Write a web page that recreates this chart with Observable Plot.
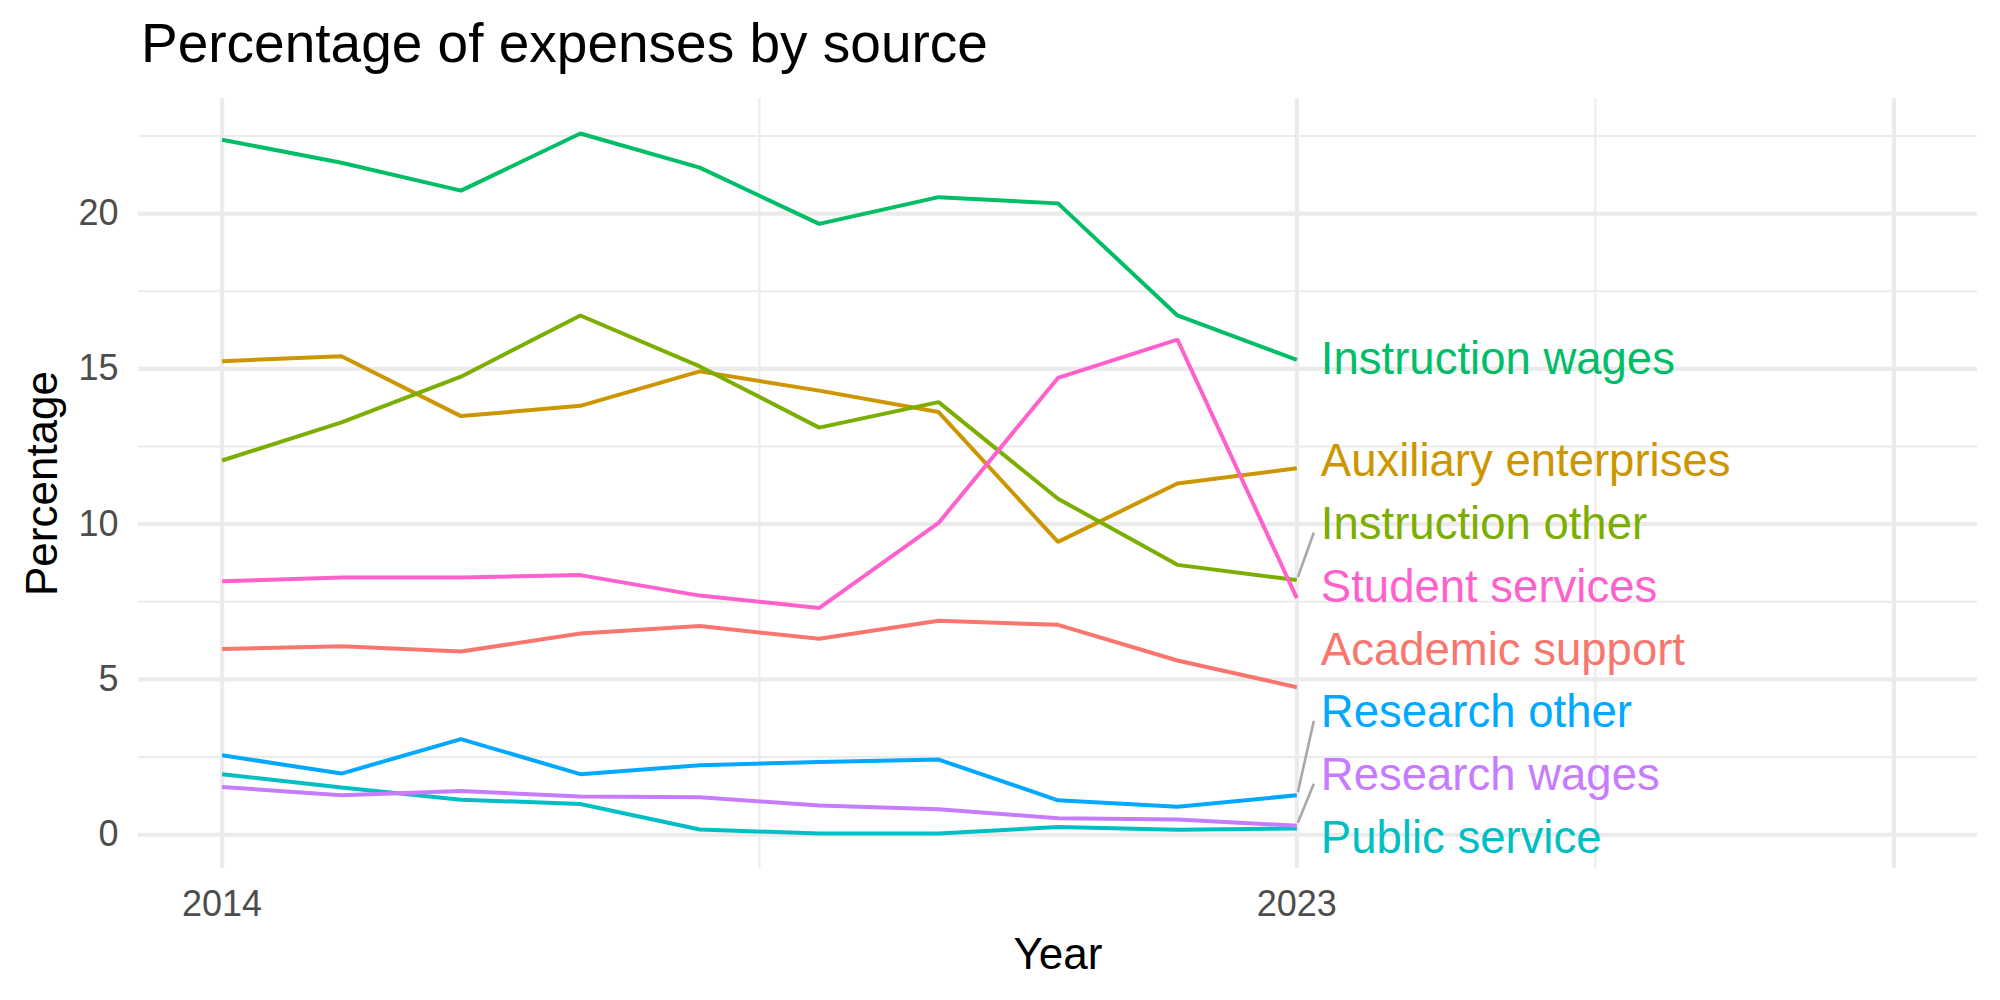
<!DOCTYPE html>
<html>
<head>
<meta charset="utf-8">
<script src="https://cdn.jsdelivr.net/npm/d3@7"></script>
<script src="https://cdn.jsdelivr.net/npm/@observablehq/plot@0.6"></script>
<style>
  html, body { margin: 0; padding: 0; background: #fff; }
  #wrap { width: 2000px; height: 1000px; position: relative; font-family: "Liberation Sans", Arial, Helvetica, sans-serif; }
  #title { position: absolute; left: 141px; top: 16px; font-size: 55px; line-height: 55px; color: #000; white-space: nowrap; }
  #chart { position: absolute; left: 0; top: 80px; }
</style>
</head>
<body>
<div id="wrap">
  <div id="title">Percentage of expenses by source</div>
  <div id="chart"></div>
</div>
<script>
// Share of expenses (%) by source, 2014–2023
const years = [2014, 2015, 2016, 2017, 2018, 2019, 2020, 2021, 2022, 2023];

const academicSupport      = [5.98, 6.07, 5.90, 6.48, 6.72, 6.31, 6.89, 6.76, 5.61, 4.75];
const auxiliaryEnterprises = [15.25, 15.41, 13.48, 13.81, 14.92, 14.30, 13.61, 9.43, 11.31, 11.80];
const instructionOther     = [12.05, 13.28, 14.75, 16.72, 15.08, 13.11, 13.93, 10.82, 8.69, 8.20];
const instructionWages     = [22.38, 21.64, 20.74, 22.58, 21.48, 19.67, 20.53, 20.33, 16.72, 15.29];
const publicService        = [1.95, 1.52, 1.13, 0.99, 0.17, 0.04, 0.04, 0.25, 0.16, 0.20];
const researchOther        = [2.56, 1.97, 3.08, 1.95, 2.24, 2.34, 2.42, 1.11, 0.90, 1.27];
const researchWages        = [1.54, 1.27, 1.41, 1.23, 1.21, 0.94, 0.82, 0.53, 0.49, 0.29];
const studentServices      = [8.16, 8.28, 8.28, 8.36, 7.70, 7.30, 10.04, 14.71, 15.94, 7.62];

const sourceNames = ["Academic support", "Auxiliary enterprises", "Instruction other", "Instruction wages",
                     "Public service", "Research other", "Research wages", "Student services"];
const sourceValues = [academicSupport, auxiliaryEnterprises, instructionOther, instructionWages,
                      publicService, researchOther, researchWages, studentServices];
const sourceColors = ["#F8766D", "#CD9600", "#7CAE00", "#00BE67", "#00BFC4", "#00A9FF", "#C77CFF", "#FF61CC"];

const xLimits = [2014, 2028];
const xTickValues = [2014, 2023];
const xGridMajor = [2014, 2023, 2028];
const xGridMinor = [2018.5, 2025.5];
const yTickValues = [0, 5, 10, 15, 20];
const yGridMinor = [2.5, 7.5, 12.5, 17.5, 22.5];

// long table
const rows = [];
sourceNames.forEach((name, i) => {
  years.forEach((year, j) => rows.push({name, year, value: sourceValues[i][j]}));
});

// geometry
const W = 2000, H = 920;
const margin = {top: 18, right: 23, bottom: 132, left: 138};
const xPad = 0.05 * (xLimits[1] - xLimits[0]);
const xDomain = [xLimits[0] - xPad, xLimits[1] + xPad];
const [vMin, vMax] = d3.extent(rows, d => d.value);
const yPad = 0.05 * (vMax - vMin);
const yDomain = [vMin - yPad, vMax + yPad];
const xs = d3.scaleLinear(xDomain, [margin.left, W - margin.right]);
const ys = d3.scaleLinear(yDomain, [H - margin.bottom, margin.top]);

// end labels, pushed apart vertically so they do not overlap
const lastYear = years[years.length - 1];
const ends = sourceNames.map((name, i) => {
  const v = sourceValues[i][sourceValues[i].length - 1];
  return {name, value: v, py: ys(v)};
});
const gap = 62.8, edge = 30;
const lo = H - margin.bottom - edge, hi = margin.top + edge;
function layoutCluster(c) {
  const n = c.items.length;
  const m = d3.mean(c.items, d => d.py);
  let bottom = m + (n - 1) / 2 * gap;
  if (bottom > lo) bottom = lo;
  let top = bottom - (n - 1) * gap;
  if (top < hi) bottom += hi - top;
  c.bottom = bottom;
  c.top = bottom - (n - 1) * gap;
}
const order = ends.slice().sort((a, b) => b.py - a.py);
const clusters = [];
for (const e of order) {
  const c = {items: [e]};
  layoutCluster(c);
  clusters.push(c);
  while (clusters.length > 1) {
    const a = clusters[clusters.length - 2], b = clusters[clusters.length - 1];
    if (a.top - b.bottom < gap) {
      const merged = {items: a.items.concat(b.items)};
      layoutCluster(merged);
      clusters.splice(-2, 2, merged);
    } else break;
  }
}
clusters.forEach(c => c.items.forEach((e, i) => { e.ly = c.bottom - i * gap; }));
ends.forEach(e => { e.labelValue = ys.invert(e.ly); });

// leader segments for labels that moved far from their line end
const xEnd = xs(lastYear);
const segments = ends.filter(e => Math.abs(e.ly - e.py) > 45).map(e => {
  const s = Math.sign(e.ly - e.py);
  return {
    x1: xs.invert(xEnd + 1), y1: ys.invert(e.py + 3 * s),
    x2: xs.invert(xEnd + 17), y2: ys.invert(e.ly - 8 * s)
  };
});

const gridColor = "#EBEBEB";
const tickColor = "#4D4D4D";
const chart = Plot.plot({
  width: W,
  height: H,
  marginTop: margin.top,
  marginRight: margin.right,
  marginBottom: margin.bottom,
  marginLeft: margin.left,
  x: {type: "linear", domain: xDomain, axis: null},
  y: {type: "linear", domain: yDomain, axis: null},
  color: {domain: sourceNames, range: sourceColors},
  style: {
    fontFamily: '"Liberation Sans", Arial, Helvetica, sans-serif',
    fontSize: "36px",
    background: "white",
    color: tickColor,
    overflow: "visible"
  },
  marks: [
    Plot.gridY(yGridMinor, {stroke: gridColor, strokeOpacity: 1, strokeWidth: 2.1}),
    Plot.gridX(xGridMinor, {stroke: gridColor, strokeOpacity: 1, strokeWidth: 2.1}),
    Plot.gridY(yTickValues, {stroke: gridColor, strokeOpacity: 1, strokeWidth: 4.2}),
    Plot.gridX(xGridMajor, {stroke: gridColor, strokeOpacity: 1, strokeWidth: 4.2}),
    // tick labels
    Plot.text(yTickValues, {frameAnchor: "left", y: d => d, text: d => String(d), textAnchor: "end", lineAnchor: "middle", dx: -20, fontSize: 36, fill: tickColor}),
    Plot.text(xTickValues, {frameAnchor: "bottom", x: d => d, text: d => String(d), textAnchor: "middle", lineAnchor: "top", dy: 22, fontSize: 36, fill: tickColor}),
    Plot.line(rows, {x: "year", y: "value", z: "name", stroke: "name", strokeWidth: 4, strokeLinejoin: "miter", strokeLinecap: "butt"}),
    Plot.link(segments, {x1: "x1", y1: "y1", x2: "x2", y2: "y2", stroke: "#A8A8A8", strokeWidth: 2.6}),
    Plot.text(ends, {x: () => lastYear, y: "labelValue", text: "name", fill: "name", textAnchor: "start", lineAnchor: "middle", dx: 24, fontSize: 45.5}),
    Plot.text(["Year"], {frameAnchor: "bottom", textAnchor: "middle", lineAnchor: "bottom", dy: 100, fontSize: 44, fill: "black"}),
    Plot.text(["Percentage"], {frameAnchor: "left", textAnchor: "middle", rotate: -90, lineAnchor: "middle", dx: -95.5, fontSize: 44, fill: "black"})
  ]
});
document.getElementById("chart").appendChild(chart);
</script>
</body>
</html>
